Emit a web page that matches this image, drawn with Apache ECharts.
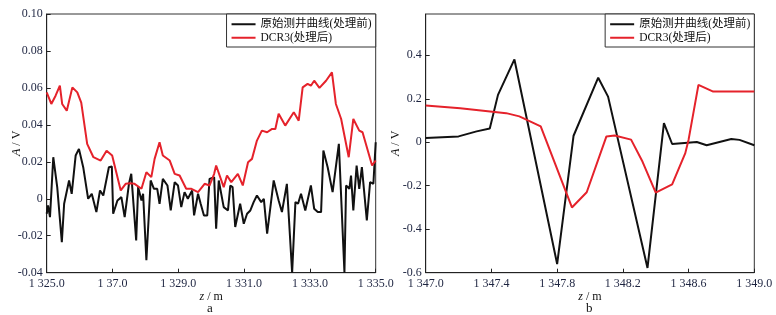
<!DOCTYPE html>
<html>
<head>
<meta charset="utf-8">
<script src="https://cdn.jsdelivr.net/npm/echarts@6/dist/echarts.min.js"></script>
<style>
  html, body { margin: 0; padding: 0; background: #fff; }
  #chart { width: 776px; height: 315px; }
</style>
</head>
<body>
<div id="chart"></div>
<script>
// 图 a：1325–1335 m
const rawDepthA = [1325.00, 1325.04, 1325.10, 1325.20, 1325.32, 1325.46, 1325.53, 1325.68, 1325.76, 1325.88,
  1325.98, 1326.11, 1326.26, 1326.37, 1326.51, 1326.62, 1326.72, 1326.89, 1326.98, 1327.02,
  1327.15, 1327.27, 1327.37, 1327.50, 1327.57, 1327.72, 1327.78, 1327.88, 1327.93, 1328.03,
  1328.16, 1328.26, 1328.36, 1328.43, 1328.53, 1328.67, 1328.77, 1328.89, 1328.99, 1329.09,
  1329.19, 1329.29, 1329.42, 1329.48, 1329.60, 1329.68, 1329.78, 1329.88, 1329.95, 1330.09,
  1330.15, 1330.23, 1330.38, 1330.51, 1330.58, 1330.65, 1330.73, 1330.88, 1330.99, 1331.09,
  1331.19, 1331.29, 1331.39, 1331.52, 1331.60, 1331.70, 1331.90, 1332.05, 1332.15, 1332.30,
  1332.46, 1332.56, 1332.64, 1332.73, 1332.86, 1333.03, 1333.13, 1333.24, 1333.34, 1333.41,
  1333.54, 1333.69, 1333.88, 1334.05, 1334.10, 1334.20, 1334.25, 1334.32, 1334.42, 1334.50,
  1334.58, 1334.73, 1334.83, 1334.93, 1335.00];
const rawValueA = [-0.0081, -0.0036, -0.0099, 0.0225, 0.0063, -0.0235, -0.0027, 0.0099, 0.0027, 0.0234,
  0.0270, 0.0171, 0.0000, 0.0027, -0.0072, 0.0045, 0.0018, 0.0171, 0.0175, -0.0081,
  -0.0009, 0.0009, -0.0099, 0.0081, 0.0135, -0.0225, 0.0063, -0.0009, 0.0027, -0.0333,
  0.0099, 0.0054, 0.0054, -0.0027, 0.0108, 0.0072, -0.0063, 0.0090, 0.0072, -0.0045,
  0.0036, 0.0000, 0.0045, -0.0090, 0.0027, -0.0027, -0.0090, -0.0090, 0.0108, 0.0117,
  -0.0162, 0.0099, -0.0045, -0.0063, 0.0072, 0.0063, -0.0153, -0.0027, -0.0135, -0.0081,
  -0.0063, -0.0018, 0.0018, -0.0018, 0.0000, -0.0189, 0.0099, -0.0009, -0.0072, 0.0081,
  -0.0400, -0.0018, -0.0027, 0.0027, -0.0063, 0.0072, -0.0054, -0.0072, -0.0072, 0.0261,
  0.0171, 0.0036, 0.0297, -0.0400, 0.0072, 0.0054, 0.0126, -0.0063, 0.0180, 0.0054,
  0.0171, -0.0117, 0.0090, 0.0081, 0.0306];

const dcrDepthA = [1325.00, 1325.14, 1325.27, 1325.40, 1325.47, 1325.61, 1325.78, 1325.93, 1326.05, 1326.23,
  1326.42, 1326.64, 1326.82, 1326.99, 1327.25, 1327.40, 1327.53, 1327.67, 1327.88, 1328.03,
  1328.18, 1328.28, 1328.43, 1328.53, 1328.74, 1328.89, 1329.04, 1329.24, 1329.40, 1329.60,
  1329.80, 1329.95, 1330.09, 1330.15, 1330.38, 1330.48, 1330.61, 1330.81, 1330.96, 1331.12,
  1331.24, 1331.39, 1331.54, 1331.70, 1331.85, 1331.95, 1332.05, 1332.25, 1332.51, 1332.66,
  1332.78, 1332.93, 1333.03, 1333.13, 1333.29, 1333.49, 1333.67, 1333.79, 1333.95, 1334.18,
  1334.32, 1334.50, 1334.60, 1334.89, 1335.00];
const dcrValueA = [0.0576, 0.0513, 0.0558, 0.0612, 0.0513, 0.0477, 0.0603, 0.0576, 0.0520, 0.0297,
  0.0225, 0.0207, 0.0260, 0.0234, 0.0045, 0.0081, 0.0084, 0.0081, 0.0054, 0.0144,
  0.0117, 0.0216, 0.0306, 0.0234, 0.0207, 0.0135, 0.0126, 0.0054, 0.0054, 0.0036,
  0.0081, 0.0072, 0.0135, 0.0180, 0.0063, 0.0126, 0.0090, 0.0135, 0.0072, 0.0198,
  0.0216, 0.0315, 0.0369, 0.0360, 0.0378, 0.0378, 0.0460, 0.0396, 0.0468, 0.0423,
  0.0603, 0.0622, 0.0612, 0.0639, 0.0600, 0.0639, 0.0684, 0.0513, 0.0432, 0.0225,
  0.0432, 0.0369, 0.0360, 0.0180, 0.0207];

// 图 b：1347–1349 m
const rawDepthB = [1347.00, 1347.20, 1347.31, 1347.39, 1347.44, 1347.54, 1347.80, 1347.90, 1348.05, 1348.11,
  1348.35, 1348.45, 1348.50, 1348.65, 1348.71, 1348.86, 1348.91, 1349.00];
const rawValueB = [0.020, 0.027, 0.050, 0.063, 0.218, 0.381, -0.560, 0.030, 0.297, 0.210,
  -0.578, 0.088, -0.008, 0.001, -0.014, 0.015, 0.011, -0.014];

const dcrDepthB = [1347.00, 1347.21, 1347.49, 1347.57, 1347.70, 1347.89, 1347.98, 1348.10, 1348.15, 1348.25,
  1348.32, 1348.40, 1348.50, 1348.58, 1348.60, 1348.66, 1348.75, 1349.00];
const dcrValueB = [0.169, 0.157, 0.134, 0.119, 0.073, -0.300, -0.230, 0.027, 0.031, 0.012,
  -0.090, -0.232, -0.194, -0.050, 0.012, 0.264, 0.233, 0.233];

const xTickLabelsA = ["1 325.0", "1 37.0", "1 329.0", "1 331.0", "1 333.0", "1 335.0"];
const xTickLabelsB = ["1 347.0", "1 347.4", "1 347.8", "1 348.2", "1 348.6", "1 349.0"];
const seriesNames = ["原始测井曲线(处理前)", "DCR3(处理后)"];
const baseA = 1325, baseB = 1347;

const serif = "'Liberation Serif', 'Times New Roman', 'Noto Sans CJK SC', serif";
const labelColor = "#1d2440";

function pairs(depth, vals, base) {
  return depth.map((d, i) => [+(d - base).toFixed(4), vals[i]]);
}

function xAxis(gridIndex, max, interval, labels) {
  return {
    type: "value", gridIndex: gridIndex, min: 0, max: max, interval: interval,
    name: "{i|z} / m", nameLocation: "middle", nameGap: 18, nameMoveOverlap: false,
    nameTextStyle: { fontFamily: serif, fontSize: 12, color: "#111",
      rich: { i: { fontFamily: serif, fontSize: 12, fontStyle: "italic", color: "#111" } } },
    axisLine: { onZero: false, lineStyle: { color: "#222", width: 1 } },
    axisTick: { inside: true, length: 4, lineStyle: { color: "#222" } },
    axisLabel: { fontFamily: serif, fontSize: 12, color: labelColor, margin: 5,
      formatter: function (v) { return labels[Math.round(v / interval)] || ""; } },
    splitLine: { show: false },
  };
}

function yAxis(gridIndex, min, max, interval, digits) {
  return {
    type: "value", gridIndex: gridIndex, min: min, max: max, interval: interval,
    name: "{i|A} / V", nameLocation: "middle", nameGap: 24, nameMoveOverlap: false,
    nameTextStyle: { fontFamily: serif, fontSize: 12, color: "#111",
      rich: { i: { fontFamily: serif, fontSize: 12, fontStyle: "italic", color: "#111" } } },
    axisLine: { onZero: false, lineStyle: { color: "#222", width: 1 } },
    axisTick: { inside: true, length: 4, lineStyle: { color: "#222" } },
    axisLabel: { fontFamily: serif, fontSize: 12, color: labelColor, margin: 4, showMaxLabel: max !== 0.59,
      formatter: function (v) {
        let k = v / interval;
        if (Math.abs(k - Math.round(k)) > 1e-6) return "";
        if (Math.abs(v) < 1e-9) return "0";
        return v.toFixed(digits);
      } },
    splitLine: { show: false },
  };
}

function legend(right) {
  return {
    data: seriesNames, orient: "vertical", right: right, top: 14,
    icon: "rect", itemWidth: 24, itemHeight: 2, itemGap: 1,
    padding: [4, 4, 3, 5],
    borderColor: "#333", borderWidth: 1, backgroundColor: "#fff",
    textStyle: { fontFamily: serif, fontSize: 11.5, color: "#111", lineHeight: 12.5 },
  };
}

function line(name, idx, data, color) {
  return {
    name: name, type: "line", xAxisIndex: idx, yAxisIndex: idx, data: data,
    showSymbol: false, symbol: "none", smooth: false, animation: false,
    lineStyle: { color: color, width: 2 }, itemStyle: { color: color },
  };
}

const black = "#111111", red = "#e5222b";
const chart = echarts.init(document.getElementById("chart"));
chart.setOption({
  backgroundColor: "#fff",
  animation: false,
  grid: [
    { left: 46.7, top: 14, width: 329, height: 258.7, show: true, borderColor: "#333", borderWidth: 1 },
    { left: 425.7, top: 14, width: 328.6, height: 258.7, show: true, borderColor: "#333", borderWidth: 1 },
  ],
  xAxis: [xAxis(0, 10, 2, xTickLabelsA), xAxis(1, 2, 0.4, xTickLabelsB)],
  yAxis: [yAxis(0, -0.04, 0.10, 0.02, 2), yAxis(1, -0.6, 0.59, 0.2, 1)],
  legend: [legend(400.3), legend(21.7)],
  graphic: [
    { type: "text", left: 207, top: 302, style: { text: "a", font: "13px " + serif, fill: "#111" } },
    { type: "text", left: 586, top: 302, style: { text: "b", font: "13px " + serif, fill: "#111" } },
  ],
  series: [
    line(seriesNames[0], 0, pairs(rawDepthA, rawValueA, baseA), black),
    line(seriesNames[1], 0, pairs(dcrDepthA, dcrValueA, baseA), red),
    line(seriesNames[0], 1, pairs(rawDepthB, rawValueB, baseB), black),
    line(seriesNames[1], 1, pairs(dcrDepthB, dcrValueB, baseB), red),
  ],
});
window.addEventListener("resize", function () {
  chart.resize();
});
</script>
</body>
</html>
